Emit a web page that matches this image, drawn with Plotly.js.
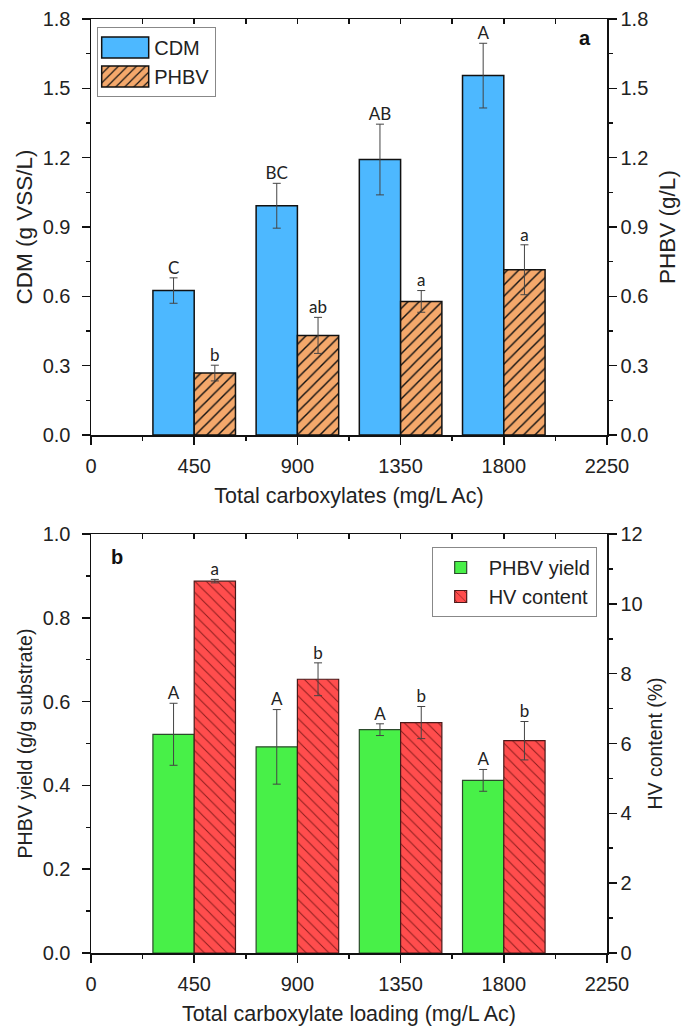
<!DOCTYPE html>
<html>
<head>
<meta charset="utf-8">
<script src="https://cdn.plot.ly/plotly-3.0.1.min.js"></script>
<style>html,body{margin:0;padding:0;background:#fff}</style>
</head>
<body>
<div id="chart" style="width:681px;height:1031px"></div>
<script>
// ---- data ----
const loadings = [450, 900, 1350, 1800];
const cdm = [0.625, 0.992, 1.192, 1.555];
const cdmErr = [0.055, 0.097, 0.153, 0.14];
const cdmLetters = ['C', 'BC', 'AB', 'A'];
const phbv = [0.268, 0.431, 0.578, 0.715];
const phbvErr = [0.034, 0.078, 0.047, 0.108];
const phbvLetters = ['b', 'ab', 'a', 'a'];

const phbvYield = [0.522, 0.492, 0.533, 0.412];
const phbvYieldErr = [0.074, 0.089, 0.014, 0.026];
const yieldLetters = ['A', 'A', 'A', 'A'];
const hvContent = [10.65, 7.84, 6.6, 6.08];
const hvErr = [0.05, 0.47, 0.46, 0.55];
const hvLetters = ['a', 'b', 'b', 'b'];

// ---- styling ----
const spacing = 450;
const barW = spacing * 0.4;
const half = barW / 2;
const FAM = 'Liberation Sans, Arial, sans-serif';
const tickFont = {family: FAM, size: 20, color: '#222'};
const xTitleFont = {family: FAM, size: 21.5, color: '#222'};
const yTitleTop = {family: FAM, size: 22.5, color: '#222'};
const yTitleBot = {family: FAM, size: 19.5, color: '#222'};
const letterFont = {family: 'Lato, Open Sans, sans-serif', size: 17, color: '#222'};
const errStyle = (arr) => ({type: 'data', array: arr, visible: true, color: '#444', thickness: 1, width: 4});

const traces = [
  {type: 'bar', name: 'CDM', x: loadings, y: cdm, xaxis: 'x', yaxis: 'y', width: barW, offset: -barW,
   marker: {color: '#4DB8FF', line: {color: '#111', width: 1.5}}, error_y: errStyle(cdmErr), legend: 'legend'},
  {type: 'bar', name: 'PHBV', x: loadings, y: phbv, xaxis: 'x', yaxis: 'y2', width: barW, offset: 0,
   marker: {color: '#F4A86B', line: {color: '#111', width: 1.5},
            pattern: {shape: '/', fgcolor: '#111', bgcolor: '#F4A86B', size: 8, solidity: 0.18}},
   error_y: errStyle(phbvErr), legend: 'legend'},
  {type: 'scatter', mode: 'text', x: loadings.map(v => v - half), y: cdm.map((v, i) => v + cdmErr[i]),
   text: cdmLetters, textposition: 'top center', textfont: letterFont, xaxis: 'x', yaxis: 'y', showlegend: false, cliponaxis: false, hoverinfo: 'skip'},
  {type: 'scatter', mode: 'text', x: loadings.map(v => v + half), y: phbv.map((v, i) => v + phbvErr[i]),
   text: phbvLetters, textposition: 'top center', textfont: letterFont, xaxis: 'x', yaxis: 'y2', showlegend: false, cliponaxis: false, hoverinfo: 'skip'},
  {type: 'scatter', x: [], y: [], xaxis: 'x3', yaxis: 'y', showlegend: false},

  {type: 'bar', name: 'PHBV yield', x: loadings, y: phbvYield, xaxis: 'x2', yaxis: 'y3', width: barW, offset: -barW,
   marker: {color: '#48F048', line: {color: '#2b4a2b', width: 1.2}}, error_y: errStyle(phbvYieldErr), legend: 'legend2'},
  {type: 'bar', name: 'HV content', x: loadings, y: hvContent, xaxis: 'x2', yaxis: 'y4', width: barW, offset: 0,
   marker: {color: '#FF4D4D', line: {color: '#4a1a1a', width: 1.2},
            pattern: {shape: '\\', fgcolor: '#8a1c1c', bgcolor: '#FF4D4D', size: 8, solidity: 0.12}},
   error_y: errStyle(hvErr), legend: 'legend2'},
  {type: 'scatter', mode: 'text', x: loadings.map(v => v - half), y: phbvYield.map((v, i) => v + phbvYieldErr[i]),
   text: yieldLetters, textposition: 'top center', textfont: letterFont, xaxis: 'x2', yaxis: 'y3', showlegend: false, cliponaxis: false, hoverinfo: 'skip'},
  {type: 'scatter', mode: 'text', x: loadings.map(v => v + half), y: hvContent.map((v, i) => v + hvErr[i]),
   text: hvLetters, textposition: 'top center', textfont: letterFont, xaxis: 'x2', yaxis: 'y4', showlegend: false, cliponaxis: false, hoverinfo: 'skip'},
  {type: 'scatter', x: [], y: [], xaxis: 'x4', yaxis: 'y3', showlegend: false}
];

const base = {showgrid: false, zeroline: false, showline: true, linecolor: '#111', linewidth: 1.5,
  ticks: 'outside', ticklen: 8, tickwidth: 1.5, tickcolor: '#111', tickfont: tickFont};
const xBase = Object.assign({}, base, {range: [0, 2250], tick0: 0, dtick: 450, mirror: true, ticklabelstandoff: 4,
  minor: {dtick: 225, ticks: 'outside', ticklen: 4, tickwidth: 1.5, tickcolor: '#111'}});
const topTicks = {range: [0, 2250], tick0: 0, dtick: 225, ticks: 'inside', ticklen: 5, tickwidth: 1.5, tickcolor: '#111',
  showticklabels: false, showline: false, showgrid: false, zeroline: false, side: 'top'};

const layout = {
  width: 681, height: 1031,
  margin: {l: 91, r: 74, t: 19, b: 78},
  paper_bgcolor: '#fff', plot_bgcolor: '#fff',
  showlegend: true,
  xaxis: Object.assign({}, xBase, {domain: [0, 1], anchor: 'y',
    title: {text: 'Total carboxylates (mg/L Ac)', font: xTitleFont, standoff: 12}}),
  yaxis: Object.assign({}, base, {domain: [0.5546, 1], anchor: 'x', range: [0, 1.8], dtick: 0.3, tickformat: '.1f',
    mirror: true, ticklabelstandoff: 7, minor: {dtick: 0.15, ticks: 'outside', ticklen: 4, tickwidth: 1.5, tickcolor: '#111'},
    title: {text: 'CDM (g VSS/L)', font: yTitleTop, standoff: 4}}),
  yaxis2: Object.assign({}, base, {overlaying: 'y', side: 'right', anchor: 'x', range: [0, 1.8], dtick: 0.3, tickformat: '.1f',
    minor: {dtick: 0.15, ticks: 'outside', ticklen: 4, tickwidth: 1.5, tickcolor: '#111'},
    title: {text: 'PHBV (g/L)', font: yTitleTop, standoff: 12}}),
  xaxis3: Object.assign({}, topTicks, {overlaying: 'x', anchor: 'y'}),

  xaxis2: Object.assign({}, xBase, {domain: [0, 1], anchor: 'y3',
    title: {text: 'Total carboxylate loading (mg/L Ac)', font: xTitleFont, standoff: 12}}),
  yaxis3: Object.assign({}, base, {domain: [0, 0.4486], anchor: 'x2', range: [0, 1], dtick: 0.2, tickformat: '.1f',
    mirror: true, ticklabelstandoff: 7, minor: {dtick: 0.1, ticks: 'outside', ticklen: 4, tickwidth: 1.5, tickcolor: '#111'},
    title: {text: 'PHBV yield (g/g substrate)', font: yTitleBot, standoff: 5}}),
  yaxis4: Object.assign({}, base, {overlaying: 'y3', side: 'right', anchor: 'x2', range: [0, 12], dtick: 2, tickformat: 'd',
    minor: {dtick: 1, ticks: 'outside', ticklen: 4, tickwidth: 1.5, tickcolor: '#111'},
    title: {text: 'HV content (%)', font: yTitleBot, standoff: 6}}),
  xaxis4: Object.assign({}, topTicks, {overlaying: 'x2', anchor: 'y3'}),

  legend: {x: 0.012, y: 0.9914, xanchor: 'left', yanchor: 'top', bgcolor: '#fff', bordercolor: '#888', borderwidth: 1,
    font: {family: FAM, size: 20, color: '#222'}, itemwidth: 46, tracegroupgap: 0},
  legend2: {x: 0.98, y: 0.4347, xanchor: 'right', yanchor: 'top', bgcolor: '#fff', bordercolor: '#888', borderwidth: 1,
    font: {family: FAM, size: 20, color: '#222'}, itemwidth: 46, tracegroupgap: 0},

  annotations: [
    {text: '<b>a</b>', xref: 'x domain', yref: 'y domain', x: 0.957, y: 0.954, xanchor: 'center', yanchor: 'middle', showarrow: false,
     font: {family: FAM, size: 20, color: '#111'}},
    {text: '<b>b</b>', xref: 'x2 domain', yref: 'y3 domain', x: 0.05, y: 0.945, xanchor: 'center', yanchor: 'middle', showarrow: false,
     font: {family: FAM, size: 20, color: '#111'}}
  ]
};

Plotly.newPlot('chart', traces, layout, {staticPlot: true, displayModeBar: false}).then(() => {
  document.querySelectorAll('.legend .legendpoints path').forEach(p => {
    p.setAttribute('d', 'M22.5,10.5H-24.5V-10.5H22.5Z');
  });
});
</script>
</body>
</html>
